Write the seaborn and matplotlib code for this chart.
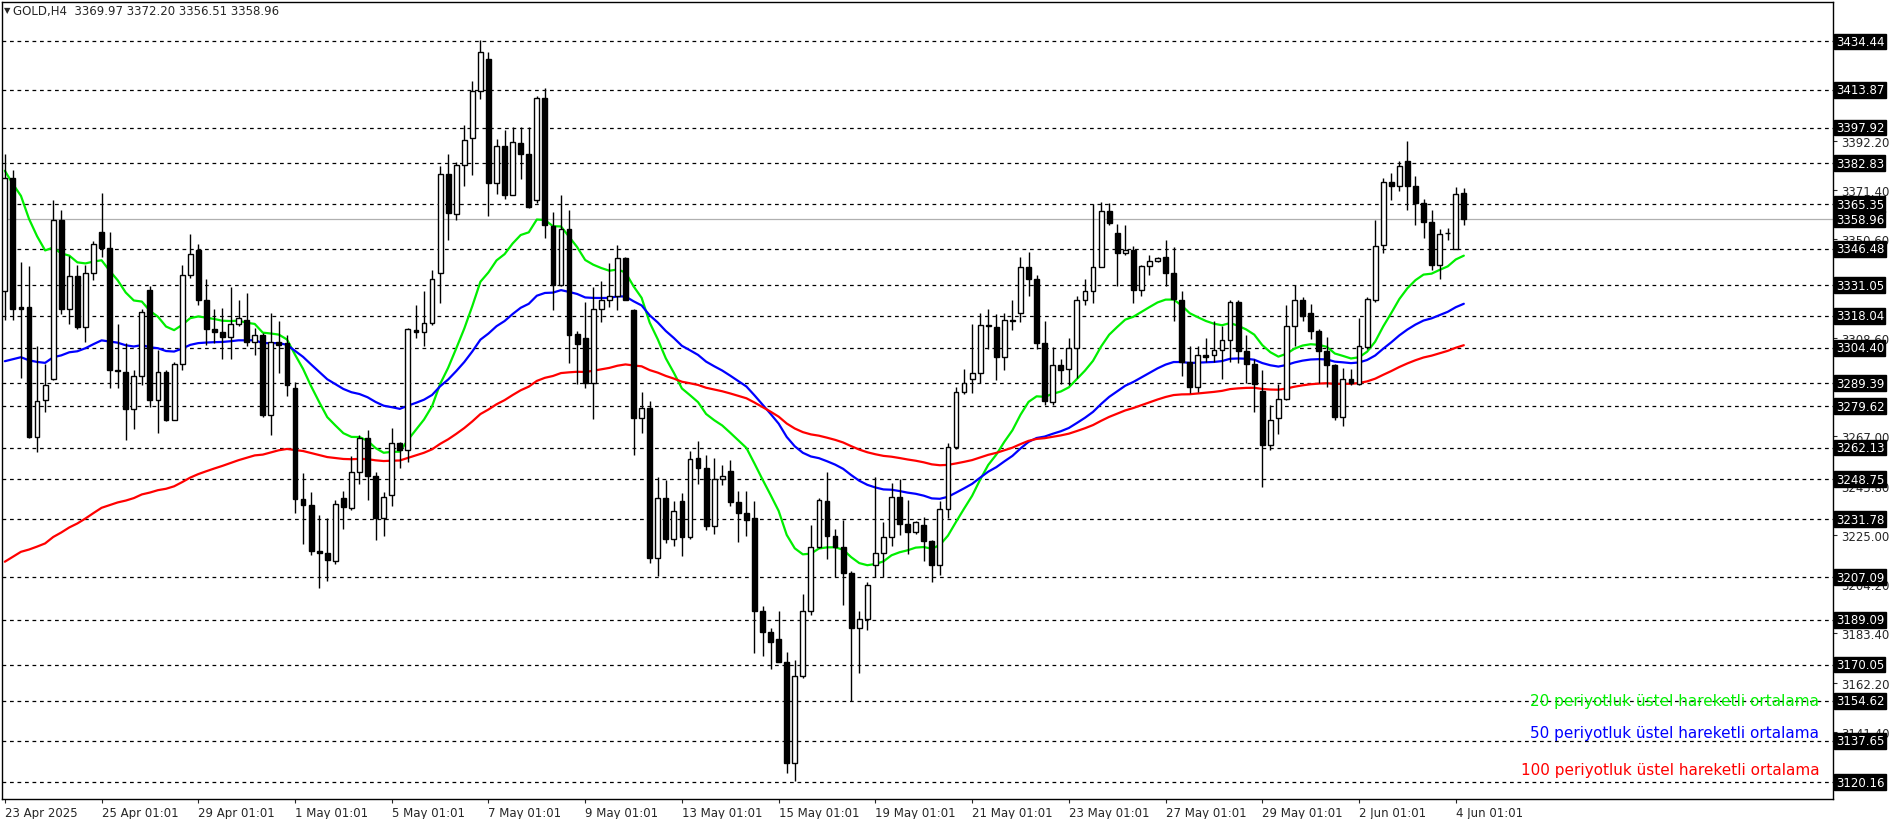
import matplotlib
matplotlib.use("Agg")
import matplotlib.pyplot as plt
import matplotlib.transforms as mtransforms
import numpy as np
import pandas as pd
import seaborn as sns

# H4 candles (open, high, low, close)
opens = [3328.6, 3376.5, 3321.9, 3321.9, 3266.6, 3282.5, 3291.4, 3358.6, 3320.8, 3334.8,
         3313.5, 3336.0, 3353.8, 3346.9, 3295.2, 3294.1, 3278.5, 3292.5, 3329.1, 3282.5,
         3294.1, 3274.0, 3297.4, 3335.3, 3346.0, 3324.9, 3312.4, 3311.0, 3309.2, 3314.6,
         3316.4, 3307.0, 3309.7, 3275.8, 3307.0, 3306.3, 3287.4, 3240.5, 3237.9, 3218.3,
         3217.6, 3213.8, 3240.8, 3236.5, 3251.7, 3266.0, 3250.1, 3232.3, 3241.8, 3264.0,
         3261.1, 3311.9, 3311.2, 3314.8, 3336.4, 3378.3, 3361.4, 3382.1, 3393.5, 3413.3,
         3427.1, 3374.3, 3389.9, 3369.4, 3391.4, 3386.5, 3367.1, 3410.6, 3356.1, 3331.3,
         3354.9, 3310.3, 3308.5, 3289.6, 3320.8, 3324.8, 3326.4, 3342.6, 3320.4, 3274.7,
         3279.1, 3215.4, 3240.8, 3223.2, 3239.4, 3224.1, 3257.7, 3253.3, 3228.7, 3248.8,
         3252.1, 3238.9, 3234.5, 3232.1, 3192.6, 3184.0, 3180.8, 3171.0, 3128.4, 3165.2,
         3192.6, 3220.0, 3239.4, 3224.5, 3220.0, 3209.0, 3185.5, 3189.3, 3212.5, 3217.6,
         3224.3, 3241.0, 3229.9, 3226.5, 3229.4, 3222.3, 3212.2, 3236.1, 3262.2, 3285.8,
         3291.4, 3293.6, 3314.1, 3313.2, 3300.7, 3316.4, 3319.3, 3338.6, 3333.5, 3306.7,
         3281.3, 3297.0, 3295.6, 3304.5, 3324.9, 3328.6, 3338.6, 3362.5, 3353.1, 3344.6,
         3346.0, 3329.1, 3339.1, 3341.5, 3343.1, 3336.4, 3324.7, 3298.5, 3287.9, 3301.4,
         3301.4, 3303.6, 3307.9, 3323.7, 3303.0, 3297.4, 3286.2, 3263.3, 3274.7, 3282.9,
         3313.7, 3324.6, 3319.3, 3311.4, 3303.0, 3297.0, 3275.1, 3291.4, 3289.1, 3304.7,
         3324.6, 3348.0, 3375.0, 3373.2, 3383.9, 3373.2, 3365.8, 3357.9, 3339.8, 3353.1,
         3346.4, 3369.97]
highs = [3386.5, 3379.8, 3340.9, 3339.3, 3305.2, 3297.4, 3367.1, 3363.1, 3343.5, 3339.8,
         3339.8, 3349.8, 3370.3, 3353.8, 3314.6, 3306.3, 3295.2, 3320.8, 3330.8, 3303.4,
         3295.2, 3298.5, 3339.8, 3352.7, 3348.6, 3333.7, 3320.8, 3321.2, 3330.4, 3324.8,
         3327.9, 3313.0, 3310.8, 3319.3, 3316.0, 3309.7, 3290.0, 3251.2, 3243.4, 3233.4,
         3232.3, 3240.0, 3243.8, 3258.4, 3267.3, 3269.5, 3251.7, 3243.2, 3270.6, 3264.4,
         3313.0, 3322.6, 3328.4, 3337.5, 3381.4, 3386.5, 3383.2, 3398.8, 3417.8, 3434.9,
         3430.0, 3393.2, 3397.0, 3398.1, 3398.1, 3398.1, 3411.1, 3414.9, 3362.0, 3369.4,
         3363.1, 3311.4, 3323.7, 3330.4, 3332.6, 3340.4, 3348.0, 3343.1, 3320.8, 3285.6,
         3281.8, 3249.5, 3248.4, 3239.4, 3242.7, 3260.6, 3265.1, 3258.8, 3257.9, 3254.6,
         3256.8, 3243.9, 3243.9, 3239.4, 3194.9, 3185.7, 3192.6, 3175.5, 3171.9, 3200.0,
         3229.4, 3240.9, 3251.7, 3227.6, 3231.6, 3209.7, 3192.6, 3204.9, 3249.5, 3230.5,
         3247.2, 3248.8, 3240.0, 3231.1, 3232.8, 3222.7, 3239.4, 3264.0, 3287.8, 3295.6,
         3314.6, 3319.3, 3320.8, 3318.6, 3319.3, 3324.8, 3343.1, 3345.3, 3335.3, 3316.0,
         3304.7, 3299.6, 3308.5, 3326.4, 3333.6, 3365.4, 3366.5, 3365.8, 3356.9, 3356.5,
         3347.5, 3339.8, 3343.7, 3343.1, 3350.2, 3347.1, 3328.6, 3305.2, 3305.2, 3308.5,
         3316.0, 3313.7, 3324.7, 3324.8, 3309.7, 3299.6, 3295.2, 3280.0, 3289.1, 3322.6,
         3331.3, 3325.9, 3323.0, 3312.3, 3309.0, 3297.4, 3295.8, 3295.6, 3317.0, 3325.9,
         3358.6, 3376.5, 3378.7, 3383.6, 3392.1, 3377.2, 3367.6, 3363.1, 3354.9, 3355.4,
         3372.5, 3372.20]
lows = [3316.4, 3316.4, 3291.8, 3266.2, 3260.2, 3277.3, 3290.7, 3318.6, 3314.6, 3312.4,
        3307.0, 3333.1, 3343.1, 3287.4, 3287.4, 3265.5, 3270.2, 3288.5, 3279.5, 3268.2,
        3273.3, 3274.0, 3295.2, 3334.2, 3322.6, 3305.6, 3306.3, 3299.6, 3299.6, 3313.7,
        3305.2, 3301.2, 3275.1, 3267.3, 3293.6, 3283.9, 3234.3, 3221.0, 3216.5, 3202.6,
        3205.5, 3212.7, 3227.6, 3235.6, 3246.8, 3240.0, 3222.7, 3224.5, 3237.2, 3253.3,
        3256.2, 3308.5, 3305.2, 3314.1, 3323.5, 3350.2, 3358.6, 3373.2, 3377.6, 3409.9,
        3360.2, 3369.8, 3367.6, 3369.4, 3376.1, 3363.6, 3366.0, 3350.9, 3320.4, 3330.8,
        3298.1, 3288.9, 3287.4, 3274.4, 3315.3, 3321.9, 3320.4, 3325.2, 3258.8, 3268.4,
        3213.1, 3207.5, 3221.6, 3220.5, 3216.1, 3223.2, 3246.8, 3227.2, 3225.6, 3246.1,
        3237.2, 3222.0, 3224.5, 3174.8, 3173.7, 3168.1, 3171.0, 3124.0, 3120.6, 3164.3,
        3191.1, 3219.4, 3214.9, 3207.1, 3195.5, 3154.7, 3166.5, 3184.8, 3207.1, 3207.1,
        3220.5, 3225.0, 3217.1, 3225.6, 3213.8, 3204.9, 3208.2, 3232.1, 3261.7, 3284.7,
        3285.1, 3289.6, 3304.1, 3290.7, 3295.2, 3311.9, 3315.3, 3326.4, 3304.1, 3280.2,
        3280.2, 3289.1, 3288.5, 3291.8, 3322.6, 3323.5, 3338.6, 3356.5, 3330.8, 3343.8,
        3323.5, 3326.4, 3335.3, 3340.9, 3330.8, 3316.0, 3292.5, 3285.1, 3285.6, 3298.5,
        3298.5, 3291.4, 3298.5, 3298.1, 3289.6, 3277.3, 3245.4, 3261.1, 3267.7, 3282.5,
        3305.2, 3316.0, 3308.1, 3289.6, 3287.8, 3274.0, 3271.3, 3288.5, 3288.5, 3304.1,
        3324.1, 3344.6, 3367.1, 3371.0, 3363.1, 3356.5, 3350.9, 3337.5, 3333.5, 3350.2,
        3346.4, 3356.51]
closes = [3376.5, 3320.8, 3321.0, 3266.6, 3281.8, 3288.5, 3358.6, 3320.8, 3334.8, 3313.5,
          3336.0, 3348.4, 3346.9, 3295.2, 3294.5, 3278.5, 3292.5, 3319.7, 3282.5, 3294.1,
          3274.0, 3297.4, 3335.3, 3344.2, 3324.7, 3312.4, 3311.0, 3309.2, 3314.6, 3317.3,
          3307.0, 3309.7, 3275.8, 3307.0, 3305.6, 3288.5, 3240.5, 3237.9, 3218.3, 3217.6,
          3214.3, 3238.3, 3236.7, 3251.7, 3266.0, 3250.1, 3232.3, 3241.1, 3264.0, 3261.1,
          3312.4, 3311.2, 3314.8, 3333.5, 3378.3, 3361.8, 3382.1, 3392.8, 3413.3, 3430.0,
          3374.3, 3389.9, 3369.4, 3391.7, 3386.5, 3364.3, 3410.6, 3356.5, 3331.3, 3354.9,
          3309.7, 3305.9, 3289.6, 3320.8, 3324.8, 3326.4, 3342.4, 3324.9, 3274.7, 3279.1,
          3215.4, 3240.8, 3223.2, 3235.4, 3224.1, 3257.3, 3253.3, 3228.7, 3248.8, 3250.1,
          3238.9, 3234.5, 3231.6, 3192.6, 3184.0, 3179.7, 3171.0, 3128.4, 3165.2, 3192.6,
          3220.0, 3239.9, 3224.5, 3220.0, 3209.0, 3185.5, 3189.3, 3203.7, 3217.6, 3224.3,
          3241.0, 3229.9, 3226.5, 3230.5, 3222.3, 3212.2, 3236.1, 3262.2, 3285.8, 3289.6,
          3293.6, 3314.1, 3313.7, 3300.7, 3316.4, 3315.7, 3338.6, 3333.5, 3306.3, 3281.8,
          3297.0, 3295.2, 3304.5, 3324.7, 3328.6, 3338.6, 3362.5, 3357.6, 3344.6, 3346.0,
          3329.1, 3339.1, 3341.3, 3342.4, 3336.4, 3325.2, 3298.5, 3287.9, 3301.4, 3300.7,
          3303.6, 3307.9, 3323.7, 3303.0, 3297.4, 3289.1, 3263.3, 3274.0, 3282.9, 3313.7,
          3324.6, 3317.9, 3311.4, 3303.0, 3297.0, 3275.1, 3291.4, 3289.6, 3305.2, 3325.2,
          3347.5, 3375.0, 3373.2, 3381.6, 3373.2, 3365.8, 3357.9, 3339.8, 3352.7, 3353.1,
          3369.8, 3358.96]

# EMA levels on the first candle
ema_seeds = {20: 3379.9, 50: 3295.6, 100: 3210.4}
ema_colors = {20: "#00ee00", 50: "#0000ff", 100: "#ff0000"}
ema_labels = {20: "20 periyotluk üstel hareketli ortalama",
              50: "50 periyotluk üstel hareketli ortalama",
              100: "100 periyotluk üstel hareketli ortalama"}

level_prices = [3434.44, 3413.87, 3397.92, 3382.83, 3365.35, 3346.48, 3331.05, 3318.04,
                3304.40, 3289.39, 3279.62, 3262.13, 3248.75, 3231.78, 3207.09, 3189.09,
                3170.05, 3154.62, 3137.65, 3120.16]
last_price = 3358.96
tick_prices = [3392.20, 3371.40, 3350.60, 3308.60, 3267.00, 3245.80, 3225.00, 3204.20,
               3183.40, 3162.20, 3141.40]
date_labels = ["23 Apr 2025", "25 Apr 01:01", "29 Apr 01:01", "1 May 01:01", "5 May 01:01",
               "7 May 01:01", "9 May 01:01", "13 May 01:01", "15 May 01:01", "19 May 01:01",
               "21 May 01:01", "23 May 01:01", "27 May 01:01", "29 May 01:01", "2 Jun 01:01",
               "4 Jun 01:01"]

sns.set_style("white")
plt.rcParams["font.family"] = ["DejaVu Sans"]

df = pd.DataFrame({"o": opens, "h": highs, "l": lows, "c": closes})
df["i"] = np.arange(len(df))

fig = plt.figure(figsize=(18.96, 8.2), dpi=100)
ax = fig.add_axes([2 / 1896, 20 / 820, 1831 / 1896, 797 / 820])

# dashed level lines
for p in level_prices:
    ax.axhline(p, color="black", linestyle=(0, (3, 3)), linewidth=0.9, zorder=1)
ax.axhline(last_price, color="#b0b0b0", linewidth=0.9, zorder=1)

# EMAs
for n, seed in ema_seeds.items():
    s = pd.Series([seed] + closes).ewm(span=n, adjust=False).mean().iloc[1:].values
    sns.lineplot(x=df["i"], y=s, ax=ax, color=ema_colors[n], linewidth=1.6, zorder=3)

# candles
up = df["c"] >= df["o"]
ax.vlines(df["i"], df["l"], df["h"], color="black", linewidth=1.0, zorder=4)
ax.bar(df["i"][up], (df["c"] - df["o"])[up], bottom=df["o"][up], width=0.6,
       color="white", edgecolor="black", linewidth=1.0, zorder=5)
ax.bar(df["i"][~up], (df["o"] - df["c"])[~up], bottom=df["c"][~up], width=0.6,
       color="black", edgecolor="black", linewidth=1.0, zorder=5)

ax.set_xlim(-0.35, 226.8)
ax.set_ylim(3113.0, 3451.2)
for sp in ax.spines.values():
    sp.set_color("black")
    sp.set_linewidth(1.0)

# x axis labels
ax.set_xticks(np.arange(len(date_labels)) * 12)
ax.set_xticklabels(date_labels, ha="left", fontsize=8.5)
ax.tick_params(axis="x", length=3, pad=2, direction="out", bottom=True)

# y axis on the right
ax.yaxis.tick_right()
ax.set_yticks(tick_prices)
ax.set_yticklabels([f"{t:.2f}" for t in tick_prices], fontsize=8.5)
ax.tick_params(axis="y", length=3, pad=3, right=True)
ax.set_xlabel("")
ax.set_ylabel("")

trans = mtransforms.blended_transform_factory(ax.transAxes, ax.transData)
for p in level_prices + [last_price]:
    ax.text(1.0015, p, f"{p:.2f}", transform=trans, fontsize=8.5, color="white",
            va="center", ha="left", clip_on=False, zorder=10,
            bbox=dict(boxstyle="square,pad=0.12", facecolor="black", edgecolor="black"))

# header
fig.text(4 / 1896, 1 - 11 / 820, "\u25BC", fontsize=6, va="center")
fig.text(13 / 1896, 1 - 11 / 820, "GOLD,H4  3369.97 3372.20 3356.51 3358.96",
         fontsize=8.5, va="center")

# legend texts
for n, y in zip([20, 50, 100], [3154.6, 3141.4, 3125.4]):
    ax.text(0.9925, y, ema_labels[n], transform=trans, color=ema_colors[n],
            fontsize=11, ha="right", va="center", zorder=6)

fig.savefig("out.png", dpi=100)
